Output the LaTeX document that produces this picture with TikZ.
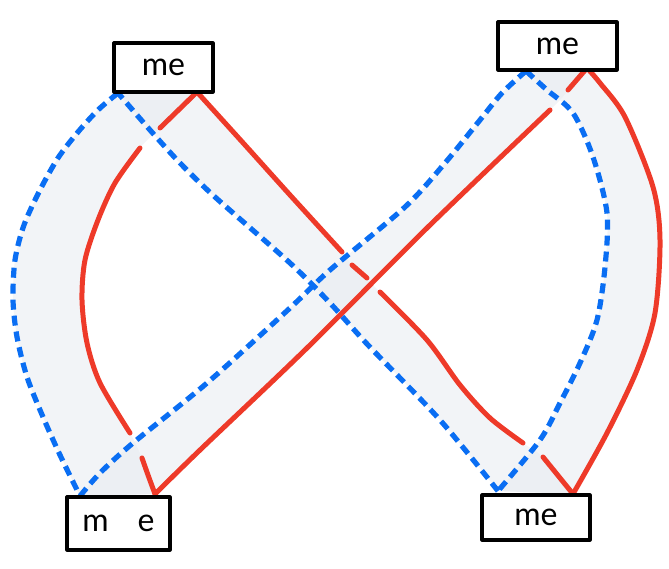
\documentclass[tikz,border=0pt]{standalone}
\usepackage{fontspec}
\setmainfont{Lato}
\definecolor{redline}{HTML}{EE3A29}
\definecolor{blueline}{HTML}{0A6EF3}
\definecolor{bandgray}{HTML}{E6EAEF}
\tikzset{
  redpath/.style={draw=redline, line width=5pt, line cap=round, line join=round},
  bluepath/.style={draw=blueline, line width=5.2pt, dash pattern=on 10pt off 6pt},
  band/.style={fill=bandgray, fill opacity=0.5, draw=none},
  mebox/.style={draw=black, line width=3.2pt, fill=white, inner sep=0pt, font=\fontsize{32}{32}\selectfont, text depth=0pt, line join=round}
}
\begin{document}
\begin{tikzpicture}[x=1pt,y=-1pt]
\useasboundingbox (0,0) rectangle (669,569);
% corner coordinates
\coordinate (tlB) at (118,93);
\coordinate (tlR) at (197,92);
\coordinate (trB) at (526,71);
\coordinate (trR) at (587,68);
\coordinate (blB) at (80,496);
\coordinate (blR) at (155,494);
\coordinate (brB) at (498,491);
\coordinate (brR) at (573,494);
% bands
\path[band] plot[smooth] coordinates {(tlB) (98,110) (78,132) (58,158) (40,190) (24,225) (15,260) (13,300) (17,337) (27,377) (43,417) (60,455) (blB)}
  -- plot[smooth] coordinates {(blR) (142,458) (130,433) (110,405) (97,375) (86,335) (82,300) (85,257) (98,220) (115,183) (138,150) (160,128) (tlR)} -- cycle;
\path[band] plot[smooth] coordinates {(tlB) (150,130) (180,163) (215,197) (290,263) (330,303) (368,345) (440,420) (brB)}
  -- plot[smooth] coordinates {(brR) (543,457) (523,443) (490,418) (460,385) (427,340) (380,292) (352,265) (342,252) (290,195) (245,145) (tlR)} -- cycle;
\path[band] plot[smooth] coordinates {(blB) (100,473) (133,443) (207,383) (290,308) (330,270) (405,207) (445,163) (480,120) (502,93) (trB)}
  -- plot[smooth] coordinates {(trR) (568,90) (550,110) (428,227) (307,348) (200,450) (blR)} -- cycle;
\path[band] plot[smooth] coordinates {(trB) (547,90) (573,113) (593,157) (607,213) (605,267) (597,320) (580,363) (560,403) (540,440) (brB)}
  -- plot[smooth] coordinates {(brR) (607,433) (637,370) (655,313) (660,240) (653,187) (623,113) (trR)} -- cycle;
% red loop (with gaps at crossings)
\draw[redpath] (tlR) -- (160,128);
\draw[redpath] plot[smooth] coordinates {(140,148) (115,183) (98,220) (85,260) (82,300) (87,343) (100,383) (130,433)};
\draw[redpath] plot[smooth] coordinates {(142,458) (148,475) (blR)};
\draw[redpath] plot[smooth] coordinates {(blR) (200,450) (307,348) (428,227) (550,110)};
\draw[redpath] (568,90) -- (trR);
\draw[redpath] plot[smooth] coordinates {(trR) (600,83) (625,117) (653,187) (660,240) (655,313) (637,370) (607,433) (brR)};
\draw[redpath] (brR) -- (543,457);
\draw[redpath] plot[smooth] coordinates {(523,443) (490,418) (460,385) (427,340) (380,292)};
\draw[redpath] (367,278) -- (352,265);
\draw[redpath] plot[smooth] coordinates {(342,252) (290,195) (245,145) (tlR)};
% blue dashed loop
\draw[bluepath] plot[smooth] coordinates {(tlB) (98,110) (78,132) (58,158) (40,190) (24,225) (15,260) (13,300) (17,337) (27,377) (43,417) (60,455) (blB)};
\draw[bluepath] plot[smooth] coordinates {(blB) (100,473) (133,443) (207,383) (290,308) (330,270) (405,207) (445,163) (480,120) (502,93) (trB)};
\draw[bluepath] plot[smooth] coordinates {(trB) (547,90) (573,113) (593,157) (607,213) (605,267) (597,320) (580,363) (560,403) (540,440) (brB)};
\draw[bluepath] plot[smooth] coordinates {(brB) (440,420) (368,345) (330,303) (290,263) (215,197) (180,163) (150,130) (tlB)};
% boxes
\node[mebox, minimum width=99pt, minimum height=49pt] (tl) at (163.5,67.5) {me};
\node[mebox, minimum width=119pt, minimum height=48pt] (tr) at (557.5,46) {me};
\node[mebox, minimum width=103pt, minimum height=53pt] (bl) at (118.5,523.5) {m\hspace{0.9em}e};
\node[mebox, minimum width=108pt, minimum height=45pt] (br) at (536,517.5) {me};
\end{tikzpicture}
\end{document}
